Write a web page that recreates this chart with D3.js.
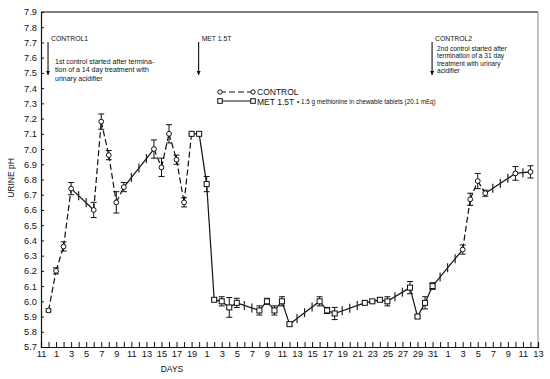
<!DOCTYPE html>
<html><head><meta charset="utf-8">
<script src="https://cdn.jsdelivr.net/npm/d3@7"></script>
<style>
body{margin:0;background:#fff;}
text{font-family:"Liberation Sans",Arial,Helvetica,sans-serif;fill:#111;}
</style></head>
<body>
<svg id="chart" width="550" height="379"></svg>
<script>
// ---- data ----
const xTickLabels = ["11","1","3","5","7","9","11","13","15","17","19",
  "1","3","5","7","9","11","13","15","17","19","21","23","25","27","29","31",
  "1","3","5","7","9","11","13"];
const yTicks = [5.7,5.8,5.9,6.0,6.1,6.2,6.3,6.4,6.5,6.6,6.7,6.8,6.9,7.0,7.1,7.2,7.3,7.4,7.5,7.6,7.7,7.8,7.9];

const control1Days = [1,2,3,4,7,8,9,10,11,15,16,17,18,19,20];
const control1PH   = [5.94,6.20,6.36,6.74,6.60,7.18,6.96,6.65,6.75,7.00,6.88,7.10,6.93,6.65,7.10];
const control1Err  = [0.01,0.02,0.03,0.04,0.05,0.05,0.03,0.07,0.03,0.06,0.06,0.06,0.03,0.03,0];

const metDays = [20,21,22,23,24,25,26,29,30,31,32,33,37,38,39,43,44,45,46,49,50,51,52];
const metPH   = [7.10,7.10,6.77,6.01,6.00,5.96,5.99,5.94,6.00,5.94,6.00,5.85,6.00,5.94,5.92,5.99,6.00,6.01,6.00,6.09,5.90,5.99,6.10];
const metErr  = [0,0,0.05,0.01,0.03,0.065,0.03,0.03,0.02,0.03,0.03,0.01,0.03,0.02,0.04,0.01,0.01,0.01,0.03,0.04,0.01,0.04,0.02];

const control2Days = [52,56,57,58,59,63,65];
const control2PH   = [6.10,6.34,6.67,6.79,6.71,6.84,6.85];
const control2Err  = [0.02,0.03,0.04,0.05,0.02,0.045,0.04];

const annotations = [
  {label:"CONTROL1", day:1, lines:["1st control started after termina-","tion of a 14 day treatment with","urinary acidifier"]},
  {label:"MET 1.5T", day:21, lines:[]},
  {label:"CONTROL2", day:52, lines:["2nd control started after","termination of a 31 day","treatment with urinary","acidifier"]}
];

// ---- layout ----
const svg = d3.select("#chart");
const L = 41, R = 538, T = 12, B = 347;
const x = d3.scaleLinear().domain([0,66]).range([L,R]);
const y = d3.scaleLinear().domain([5.7,7.9]).range([B,T]);

// frame
svg.append("line").attr("x1",L).attr("x2",R).attr("y1",T).attr("y2",T).attr("stroke","#555").attr("stroke-width",1.6);
svg.append("line").attr("x1",R).attr("x2",R).attr("y1",T).attr("y2",B).attr("stroke","#888").attr("stroke-width",1);

// axes
const xAxis = d3.axisBottom(x).tickValues(d3.range(0,67)).tickSize(-5).tickPadding(3.5)
  .tickFormat(d => d % 2 === 0 ? xTickLabels[d/2] : "");
const gx = svg.append("g").attr("transform",`translate(0,${B})`).call(xAxis);
gx.select(".domain").attr("stroke","#111").attr("stroke-width",1.2);
gx.selectAll(".tick line").attr("stroke","#111");
gx.selectAll("text").attr("font-size","9.3px").attr("fill","#111").attr("font-family","Liberation Sans, Arial, sans-serif");

const yAxis = d3.axisLeft(y).tickValues(yTicks).tickSize(-3).tickPadding(4).tickFormat(d3.format(".1f"));
const gy = svg.append("g").attr("transform",`translate(${L},0)`).call(yAxis);
gy.select(".domain").attr("stroke","#111").attr("stroke-width",1.2);
gy.selectAll(".tick line").attr("stroke","#111");
gy.selectAll("text").attr("font-size","9.3px").attr("fill","#111").attr("font-family","Liberation Sans, Arial, sans-serif");

// axis titles
svg.append("text").attr("x",172).attr("y",372).attr("text-anchor","middle").attr("font-size","8.5px").text("DAYS");
svg.append("text").attr("transform","translate(14,178) rotate(-90)").attr("text-anchor","middle").attr("font-size","8.5px").text("URINE pH");

// arrow marker
svg.append("defs").append("marker").attr("id","arr").attr("viewBox","0 0 10 10").attr("refX",10).attr("refY",5)
  .attr("markerWidth",4).attr("markerHeight",4).attr("orient","auto")
  .append("path").attr("d","M0,0L10,5L0,10z").attr("fill","#111");

annotations.forEach(a => {
  const ax = x(a.day) - 0.5;
  svg.append("line").attr("x1",ax).attr("x2",ax).attr("y1",42).attr("y2",75)
    .attr("stroke","#111").attr("stroke-width",1.1).attr("marker-end","url(#arr)");
  svg.append("text").attr("x",ax+3).attr("y",41).attr("font-size","6.8px").text(a.label);
  const first = a.day===1 ? 64 : 50.5, step = a.day===1 ? 8.4 : 7.6;
  a.lines.forEach((t,i) => {
    svg.append("text").attr("x",ax+(a.day===1?7:5)).attr("y",first+i*step).attr("font-size", a.day===1?"7px":"6.6px").text(t);
  });
});

// series drawing
function drawSeries(days, vals, errs, dashed, shape){
  const g = svg.append("g");
  for(let i=0;i<days.length-1;i++){
    const d0=days[i], d1=days[i+1], v0=vals[i], v1=vals[i+1];
    const seg = g.append("line").attr("x1",x(d0)).attr("y1",y(v0)).attr("x2",x(d1)).attr("y2",y(v1))
      .attr("stroke","#111").attr("stroke-width",1.2);
    if(d1-d0===1 && dashed) seg.attr("stroke-dasharray","6,3");
    for(let d=d0+1; d<d1; d++){
      const v = v0 + (v1-v0)*(d-d0)/(d1-d0);
      g.append("line").attr("x1",x(d)).attr("x2",x(d)).attr("y1",y(v)-4.5).attr("y2",y(v)+4.5)
        .attr("stroke","#222").attr("stroke-width",1.2);
    }
  }
  days.forEach((d,i) => {
    const e = errs[i];
    if(e>0){
      const cx=x(d), yt=y(vals[i]+e), yb=y(vals[i]-e);
      g.append("line").attr("x1",cx).attr("x2",cx).attr("y1",yt).attr("y2",yb).attr("stroke","#111").attr("stroke-width",1);
      [yt,yb].forEach(yy => g.append("line").attr("x1",cx-3).attr("x2",cx+3).attr("y1",yy).attr("y2",yy).attr("stroke","#111").attr("stroke-width",1));
    }
  });
  days.forEach((d,i) => {
    if(shape==="circle"){
      g.append("circle").attr("cx",x(d)).attr("cy",y(vals[i])).attr("r",2.4).attr("fill","#fff").attr("stroke","#111").attr("stroke-width",1);
    } else {
      g.append("rect").attr("x",x(d)-2.5).attr("y",y(vals[i])-2.5).attr("width",5).attr("height",5).attr("fill","#fff").attr("stroke","#111").attr("stroke-width",1);
    }
  });
}
drawSeries(control1Days, control1PH, control1Err, true, "circle");
drawSeries(control2Days, control2PH, control2Err, true, "circle");
drawSeries(metDays, metPH, metErr, false, "square");

// legend
const lg = svg.append("g");
lg.append("line").attr("x1",220).attr("x2",253).attr("y1",92).attr("y2",92).attr("stroke","#111").attr("stroke-width",1.2).attr("stroke-dasharray","6,3");
[220,253].forEach(cx => lg.append("circle").attr("cx",cx).attr("cy",92).attr("r",2.2).attr("fill","#fff").attr("stroke","#111"));
lg.append("text").attr("x",257).attr("y",95).attr("font-size","8.5px").text("CONTROL");
lg.append("line").attr("x1",220).attr("x2",253).attr("y1",101).attr("y2",101).attr("stroke","#111").attr("stroke-width",1.2);
[220,253].forEach(cx => lg.append("rect").attr("x",cx-2.3).attr("y",98.7).attr("width",4.6).attr("height",4.6).attr("fill","#fff").attr("stroke","#111"));
lg.append("text").attr("x",257).attr("y",104.5).attr("font-size","8.5px").text("MET 1.5T");
lg.append("text").attr("x",297).attr("y",104).attr("font-size","6.3px").text("• 1.5 g methionine in chewable tablets (20.1 mEq)");
</script>
</body></html>
